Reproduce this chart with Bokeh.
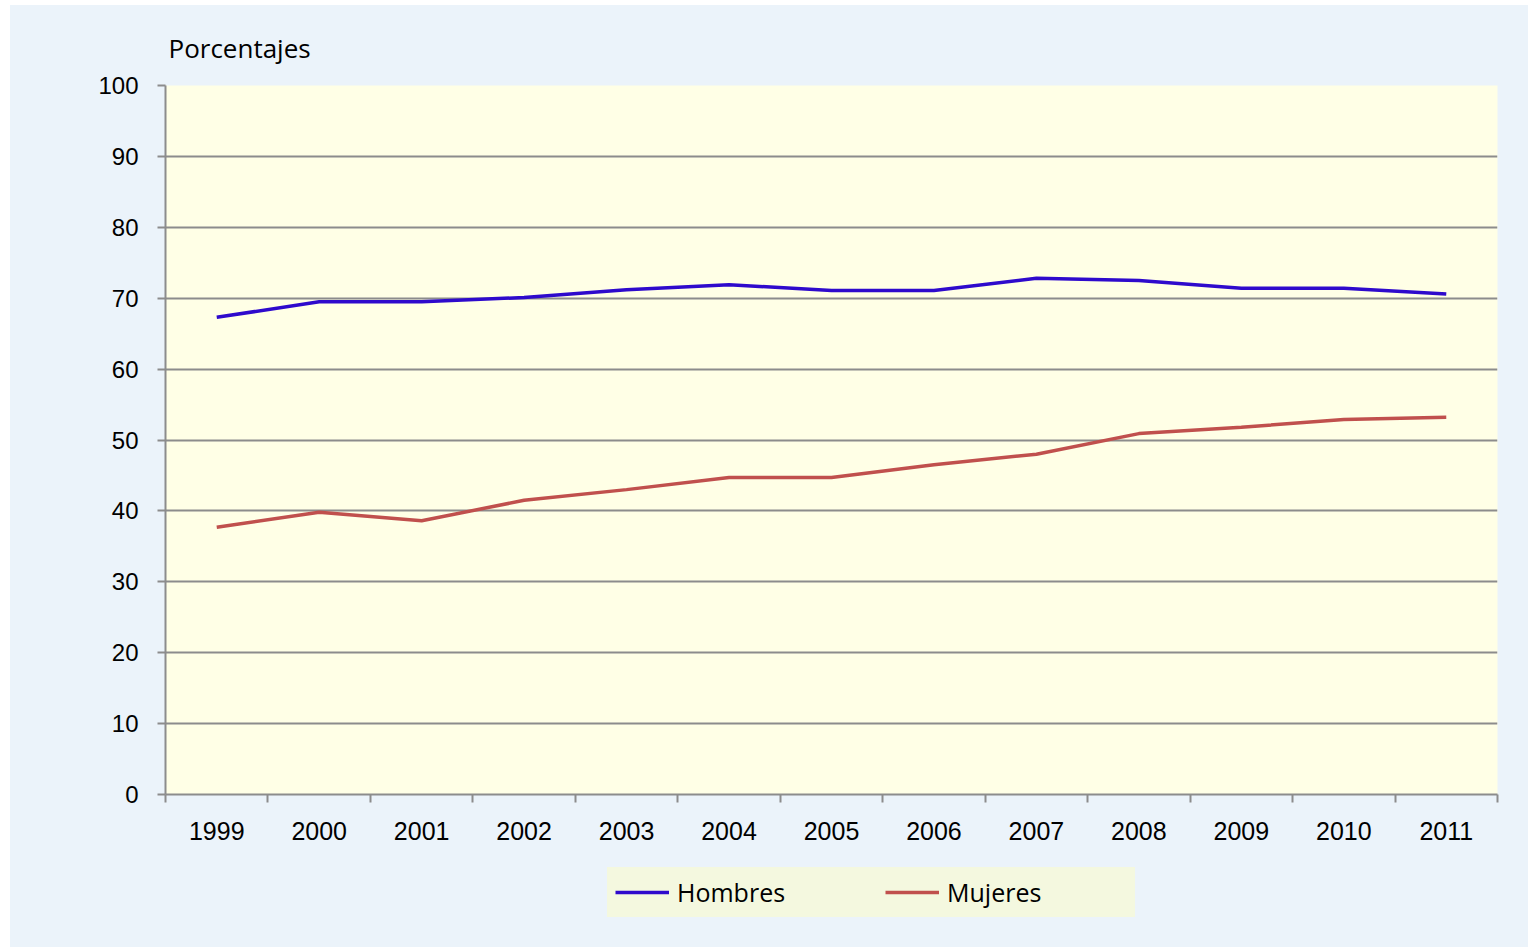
from bokeh.plotting import figure
from bokeh.models import FixedTicker, Range1d, Legend, LegendItem
from bokeh.layouts import column
from bokeh.embed import file_html
from bokeh.resources import INLINE

years = ["1999", "2000", "2001", "2002", "2003", "2004", "2005",
         "2006", "2007", "2008", "2009", "2010", "2011"]
hombres = [67.3, 69.5, 69.5, 70.1, 71.2, 71.9, 71.1, 71.1, 72.8, 72.5, 71.4, 71.4, 70.6]
mujeres = [37.7, 39.8, 38.6, 41.5, 43.0, 44.7, 44.7, 46.5, 48.0, 50.9, 51.8, 52.9, 53.2]
y_ticks = [0, 10, 20, 30, 40, 50, 60, 70, 80, 90, 100]
series_names = ["Hombres", "Mujeres"]
series_values = [hombres, mujeres]
series_colors = ["#2E0ACC", "#C0504D"]

n = len(years)
centers = [i + 0.5 for i in range(n)]
bounds = list(range(n + 1))

GRAY = "#8c8c8c"
BG = "#EBF3FA"
LEG_BG = "#F4F8DF"
TICK_FONT = "Liberation Sans"
TEXT_FONT = "Open Sans"

p = figure(width=1518, height=855, output_backend="svg", toolbar_location=None,
           x_range=Range1d(0, n), y_range=Range1d(0, 100),
           min_border_left=155, min_border_right=31, min_border_top=80,
           min_border_bottom=66)

p.background_fill_color = "#FFFFE6"
p.border_fill_color = BG
p.outline_line_color = None

# title
p.title.text = "Porcentajes"
p.title.text_font = TEXT_FONT
p.title.text_font_size = "26px"
p.title.text_font_style = "normal"
p.title.text_color = "#000000"
p.title.align = "left"
p.title.offset = 3
p.title.standoff = 39

# y axis
p.yaxis.ticker = FixedTicker(ticks=y_ticks)
p.yaxis.major_tick_out = 8
p.yaxis.major_tick_in = 0
p.yaxis.minor_tick_line_color = None
p.yaxis.axis_line_color = GRAY
p.yaxis.axis_line_width = 2
p.yaxis.major_tick_line_color = GRAY
p.yaxis.major_tick_line_width = 2
p.yaxis.major_label_text_font = TICK_FONT
p.yaxis.major_label_text_font_size = "24px"
p.yaxis.major_label_text_color = "#000000"
p.yaxis.major_label_standoff = 19

# x axis
p.xaxis.ticker = FixedTicker(ticks=centers, minor_ticks=bounds)
p.xaxis.major_label_overrides = {c: y for c, y in zip(centers, years)}
p.xaxis.major_tick_out = 0
p.xaxis.major_tick_in = 0
p.xaxis.minor_tick_out = 8
p.xaxis.minor_tick_in = 0
p.xaxis.minor_tick_line_color = GRAY
p.xaxis.minor_tick_line_width = 2
p.xaxis.axis_line_color = GRAY
p.xaxis.axis_line_width = 2
p.xaxis.major_label_text_font = TICK_FONT
p.xaxis.major_label_text_font_size = "25px"
p.xaxis.major_label_text_color = "#000000"
p.xaxis.major_label_standoff = 19

# grid
p.xgrid.grid_line_color = None
p.ygrid.ticker = FixedTicker(ticks=y_ticks)
p.ygrid.grid_line_color = GRAY
p.ygrid.grid_line_width = 2

for vals, color in zip(series_values, series_colors):
    p.line(centers, vals, line_color=color, line_width=3.5)

# legend strip below the chart (its series lie outside its view)
p2 = figure(width=1518, height=87, output_backend="svg", toolbar_location=None,
            x_range=Range1d(0, n), y_range=Range1d(200, 300), min_border=0)
p2.axis.visible = False
p2.grid.grid_line_color = None
p2.outline_line_color = None
p2.background_fill_color = None
p2.border_fill_color = None

items = []
for name, vals, color in zip(series_names, series_values, series_colors):
    r = p2.line(centers, vals, line_color=color, line_width=3.5)
    items.append(LegendItem(label=name, renderers=[r]))

legend = Legend(items=items, orientation="horizontal", location=(442, 30),
                background_fill_color=LEG_BG, background_fill_alpha=1.0,
                border_line_color=LEG_BG, border_line_width=1,
                label_text_font=TEXT_FONT, label_text_font_size="25px",
                label_text_color="#000000",
                glyph_width=54, glyph_height=26, label_height=26,
                label_width=180, label_standoff=8,
                spacing=28, padding=7, margin=0)
p2.add_layout(legend, "center")

layout = column(p, p2, spacing=0, styles={"background-color": BG})
layout.margin = (5, 0, 0, 10)
open("out.html", "w").write(file_html(layout, INLINE))
